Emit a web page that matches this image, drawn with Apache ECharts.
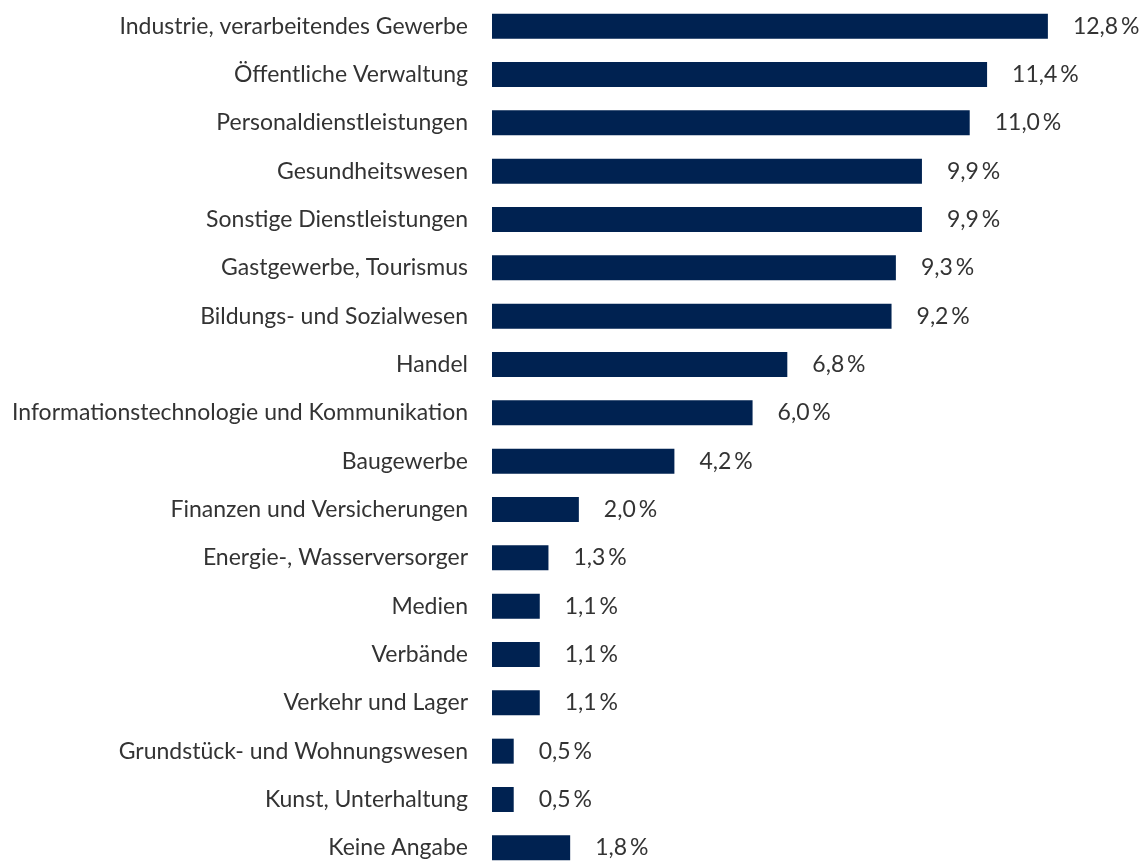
<!DOCTYPE html>
<html>
<head>
<meta charset="utf-8">
<script src="https://cdn.jsdelivr.net/npm/echarts@6/dist/echarts.min.js"></script>
<style>
  html, body { margin: 0; padding: 0; background: #fff; }
  #chart { width: 1140px; height: 862px; }
</style>
</head>
<body>
<div id="chart"></div>
<script>
const categories = [
  'Industrie, verarbeitendes Gewerbe',
  'Öffentliche Verwaltung',
  'Personaldienstleistungen',
  'Gesundheitswesen',
  'Sonstige Dienstleistungen',
  'Gastgewerbe, Tourismus',
  'Bildungs- und Sozialwesen',
  'Handel',
  'Informationstechnologie und Kommunikation',
  'Baugewerbe',
  'Finanzen und Versicherungen',
  'Energie-, Wasserversorger',
  'Medien',
  'Verbände',
  'Verkehr und Lager',
  'Grundstück- und Wohnungswesen',
  'Kunst, Unterhaltung',
  'Keine Angabe'
]
const shares = [12.8, 11.4, 11.0, 9.9, 9.9, 9.3, 9.2, 6.8, 6.0, 4.2, 2.0, 1.3, 1.1, 1.1, 1.1, 0.5, 0.5, 1.8]

const textColor = '#333333'
const barColor = '#002251'
const font = 'Lato, "Noto Sans", sans-serif'

const chart = echarts.init(document.getElementById('chart'))

chart.setOption({
  animation: false,
  grid: { left: 492, top: 2, width: 608, height: 870, containLabel: false, outerBoundsMode: 'none' },
  xAxis: {
    type: 'value',
    min: 0,
    max: 14,
    show: false,
  },
  yAxis: {
    type: 'category',
    inverse: true,
    data: categories,
    axisLine: { show: false },
    axisTick: { show: false },
    splitLine: { show: false },
    axisLabel: {
      margin: 24,
      fontFamily: font,
      fontSize: 23,
      color: textColor,
    },
  },
  series: [
    {
      type: 'bar',
      data: shares,
      barWidth: 25,
      itemStyle: { color: barColor },
      label: {
        show: true,
        position: 'right',
        distance: 25,
        fontFamily: font,
        fontSize: 23,
        color: textColor,
        formatter: (p) => p.value.toFixed(1).replace('.', ',') + '\u2009%',
      },
    },
  ],
})
</script>
</body>
</html>
